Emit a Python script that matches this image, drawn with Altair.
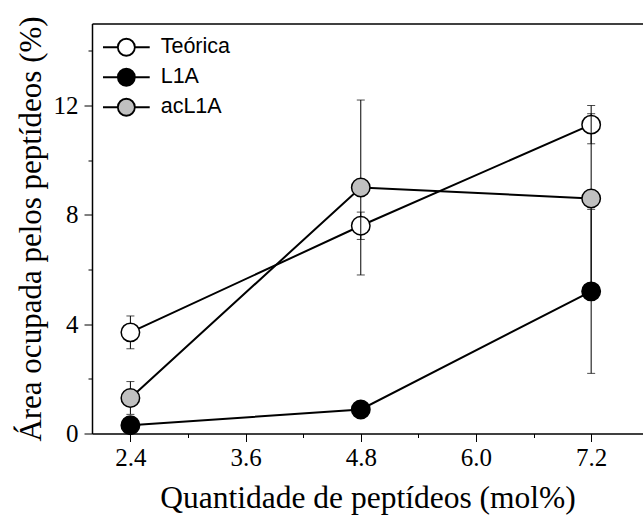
import altair as alt
import pandas as pd

# ---- data ----
x_vals = [2.4, 4.8, 7.2]
series_names = ["Teórica", "L1A", "acL1A"]
teorica = [3.7, 7.6, 11.3]
teorica_err = [0.6, 0.5, 0.7]
l1a = [0.3, 0.88, 5.2]
l1a_err = [0.2, 0.2, 3.0]
acl1a = [1.3, 9.0, 8.6]
acl1a_err = [0.6, 3.2, 3.1]
fill_colors = ["white", "black", "#c0c0c0"]
x_tick_values = [2.4, 3.0, 3.6, 4.2, 4.8, 5.4, 6.0, 6.6, 7.2]
y_tick_values = [0, 2, 4, 6, 8, 10, 12, 14]

rows = []
for name, vals, errs in zip(series_names, [teorica, l1a, acl1a], [teorica_err, l1a_err, acl1a_err]):
    for xv, v, e in zip(x_vals, vals, errs):
        rows.append({"series": name, "x": xv, "y": v, "lo": v - e, "hi": v + e})
df = pd.DataFrame(rows)

SERIF = "Liberation Serif"
SANS = "Liberation Sans"

x_scale = alt.Scale(domain=[2.0, 7.74], nice=False, zero=False)
y_scale = alt.Scale(domain=[0, 15], nice=False, zero=True)

major_x = "round(datum.value*10) % 12 == 0"
major_y = "datum.value % 4 == 0"

x_axis = alt.Axis(
    values=x_tick_values, format=".1f",
    labelExpr=f"{major_x} ? datum.label : ''",
    tickSize={"condition": {"test": major_x, "value": 8}, "value": 4},
    tickColor="black", tickWidth=1, domainColor="black", domainWidth=1.5,
    labelFont=SERIF, labelFontSize=25, labelColor="black", labelPadding=4,
    labelFlush=False, labelOverlap=False, grid=False,
    title="Quantidade de peptídeos (mol%)", titleFont=SERIF, titleFontSize=31.5,
    titleFontWeight="normal", titleColor="black",
    titleBaseline="alphabetic", titleY=74,
)
y_axis = alt.Axis(
    values=y_tick_values,
    labelExpr=f"{major_y} ? datum.label : ''",
    tickSize={"condition": {"test": major_y, "value": 8}, "value": 4},
    tickColor="black", tickWidth=1, domainColor="black", domainWidth=1.5,
    labelFont=SERIF, labelFontSize=25, labelColor="black", labelPadding=6,
    labelFlush=False, labelOverlap=False, grid=False,
    title="Área ocupada pelos peptídeos (%)", titleFont=SERIF, titleFontSize=31,
    titleFontWeight="normal", titleColor="black",
    titleBaseline="alphabetic", titleX=-52, titleAngle=-90,
)

legend_path = "M-2.75,0L-1,0M1,0L2.75,0M1,0A1,1,0,1,1,-1,0A1,1,0,1,1,1,0Z"
legend = alt.Legend(
    title=None, orient="none", legendX=23.6, legendY=13,
    symbolType=legend_path, symbolSize=289, symbolStrokeColor="black",
    symbolStrokeWidth=1.8, labelFont=SANS, labelFontSize=21.5, labelColor="black",
    labelOffset=23.6, rowPadding=5, padding=0,
)

X = alt.X("x:Q", scale=x_scale, axis=x_axis)
Y = alt.Y("y:Q", scale=y_scale, axis=y_axis)

layers = []
for name in series_names:
    base = alt.Chart(df).transform_filter(alt.datum.series == name)
    rule = base.mark_rule(color="black", strokeWidth=1).encode(
        x=X, y=alt.Y("lo:Q", scale=y_scale, axis=y_axis), y2="hi:Q")
    cap_lo = base.mark_tick(orient="horizontal", color="black", size=8, thickness=1).encode(
        x=X, y=alt.Y("lo:Q", scale=y_scale, axis=y_axis))
    cap_hi = base.mark_tick(orient="horizontal", color="black", size=8, thickness=1).encode(
        x=X, y=alt.Y("hi:Q", scale=y_scale, axis=y_axis))
    line = base.mark_line(color="black", strokeWidth=2).encode(x=X, y=Y)
    pts = base.mark_point(shape="circle", filled=True, size=340, stroke="black",
                          strokeWidth=1.5, opacity=1, fillOpacity=1).encode(
        x=X, y=Y,
        fill=alt.Fill("series:N", scale=alt.Scale(domain=series_names, range=fill_colors),
                      sort=series_names, legend=legend),
    )
    layers += [rule, cap_lo, cap_hi, line, pts]

main = alt.layer(*layers)

top = alt.Chart(df).mark_point(opacity=0).encode(
    x=alt.X("x:Q", scale=x_scale,
            axis=alt.Axis(orient="top", labels=False, ticks=False, title=None,
                          domainColor="black", domainWidth=1.5, grid=False)),
    y=alt.Y("y:Q", scale=y_scale),
)

chart = alt.layer(main, top).resolve_axis(x="independent").properties(
    width=551, height=410,
    autosize=alt.AutoSizeParams(type="none"),
    padding={"left": 92, "top": 23.5, "right": 0, "bottom": 81.5},
    background="white",
).configure_view(stroke=None)

chart.save("out.html", embed_options={"renderer": "svg", "actions": False})
